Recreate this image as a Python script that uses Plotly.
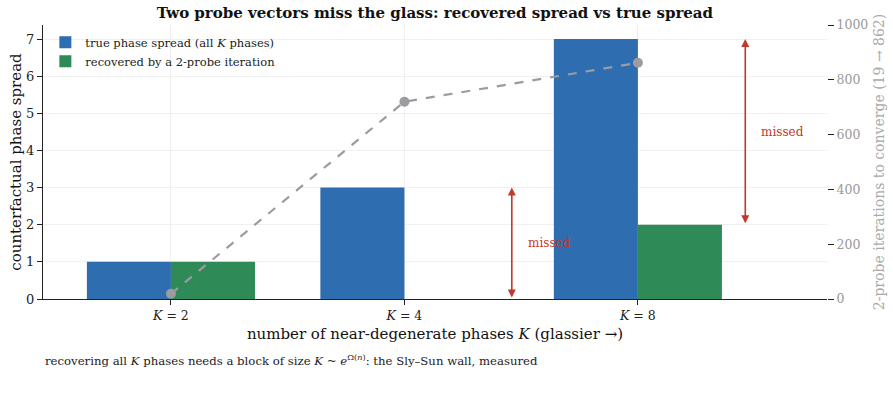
import plotly.graph_objects as go

categories = ["K = 2", "K = 4", "K = 8"]
k_values = [2, 4, 8]
true_spread = [1, 3, 7]
recovered_spread = [1, 0, 2]
iterations = [19, 720, 862]
left_ticks = [0, 1, 2, 3, 4, 5, 6, 7]
right_ticks = [0, 200, 400, 600, 800, 1000]

FONT = "DejaVu Serif"
BLUE = "#2e6daf"
GREEN = "#2e8a56"
GREY = "#9b9ba0"
RED = "#c0392b"

xpos = list(range(len(categories)))
ticktext = [f"<i>K</i> = {k}" for k in k_values]

fig = go.Figure()
fig.add_trace(go.Bar(
    x=xpos, y=true_spread, name="true phase spread (all <i>K</i> phases)",
    marker=dict(color=BLUE, line=dict(width=0)), width=0.36, offset=-0.36,
))
fig.add_trace(go.Bar(
    x=xpos, y=recovered_spread, name="recovered by a 2-probe iteration",
    marker=dict(color=GREEN, line=dict(width=0)), width=0.36, offset=0.0,
))
fig.add_trace(go.Scatter(
    x=xpos, y=iterations, yaxis="y2", mode="lines+markers",
    line=dict(color=GREY, width=2.2, dash="dash"),
    marker=dict(color=GREY, size=10), showlegend=False,
))

# missed arrows
for i in range(len(categories)):
    gap = true_spread[i] - recovered_spread[i]
    if gap <= 0 or i == 0:
        continue
    xa = i + 0.46
    fig.add_annotation(
        x=xa, y=true_spread[i], ax=xa, ay=recovered_spread[i],
        xref="x", yref="y", axref="x", ayref="y",
        showarrow=True, arrowhead=2, startarrowhead=2, arrowside="end+start",
        arrowsize=1, arrowwidth=1.6, arrowcolor=RED, text="",
    )
    fig.add_annotation(
        x=xa + 0.06, y=(true_spread[i] + recovered_spread[i]) / 2,
        xref="x", yref="y", text="missed", showarrow=False,
        xanchor="left", font=dict(family=FONT, size=12, color=RED),
    )

plot_h = 409 - 25 - 110
fig.add_annotation(
    x=0.0, y=-(360 - 299) / plot_h, xref="paper", yref="paper",
    xanchor="left", yanchor="middle",
    text="recovering all <i>K</i> phases needs a block of size <i>K</i> ~ <i>e</i><sup>Ω(<i>n</i>)</sup>: the Sly–Sun wall, measured",
    showarrow=False, font=dict(family=FONT, size=11.7, color="#222"),
)

fig.update_layout(
    width=893, height=409,
    margin=dict(l=43, r=66, t=25, b=110),
    paper_bgcolor="white", plot_bgcolor="white",
    font=dict(family=FONT, color="#111"),
    title=dict(text="<b>Two probe vectors miss the glass: recovered spread vs true spread</b>",
               x=0.487, xanchor="center", y=0.968, yanchor="middle",
               font=dict(family=FONT, size=15, color="#111")),
    barmode="overlay",
    showlegend=True,
    legend=dict(x=0.003, y=0.99, xanchor="left", yanchor="top",
                font=dict(family=FONT, size=11.5, color="#222"),
                bgcolor="rgba(255,255,255,0)", tracegroupgap=2),
    xaxis=dict(
        range=[-0.548, 2.81], tickvals=xpos, ticktext=ticktext,
        showgrid=True, gridcolor="#f0f0f0", gridwidth=1, zeroline=False,
        showline=True, linecolor="#222", linewidth=1.3,
        ticks="outside", ticklen=5, tickcolor="#222", automargin=False,
        tickfont=dict(family=FONT, size=12.5, color="#222"),
        title=dict(text="number of near-degenerate phases <i>K</i> (glassier →)",
                   font=dict(family=FONT, size=15, color="#111"), standoff=6),
    ),
    yaxis=dict(
        range=[0, 7.38], tickvals=left_ticks,
        showgrid=True, gridcolor="#f0f0f0", gridwidth=1, zeroline=False,
        showline=True, linecolor="#222", linewidth=1.3,
        ticks="outside", ticklen=5, tickcolor="#222", automargin=False,
        tickfont=dict(family=FONT, size=13, color="#222"),
        title=dict(text="counterfactual phase spread",
                   font=dict(family=FONT, size=15, color="#111"), standoff=0),
    ),
    yaxis2=dict(
        range=[0, 1000], tickvals=right_ticks, overlaying="y", side="right",
        showgrid=False, zeroline=False, showline=False,
        ticks="outside", ticklen=6, tickcolor="#222", automargin=False,
        tickfont=dict(family=FONT, size=12.5, color="#999"),
        title=dict(text="2-probe iterations to converge (19 → 862)",
                   font=dict(family=FONT, size=14, color="#aaa"), standoff=6),
    ),
)

fig.write_html("out.html")
